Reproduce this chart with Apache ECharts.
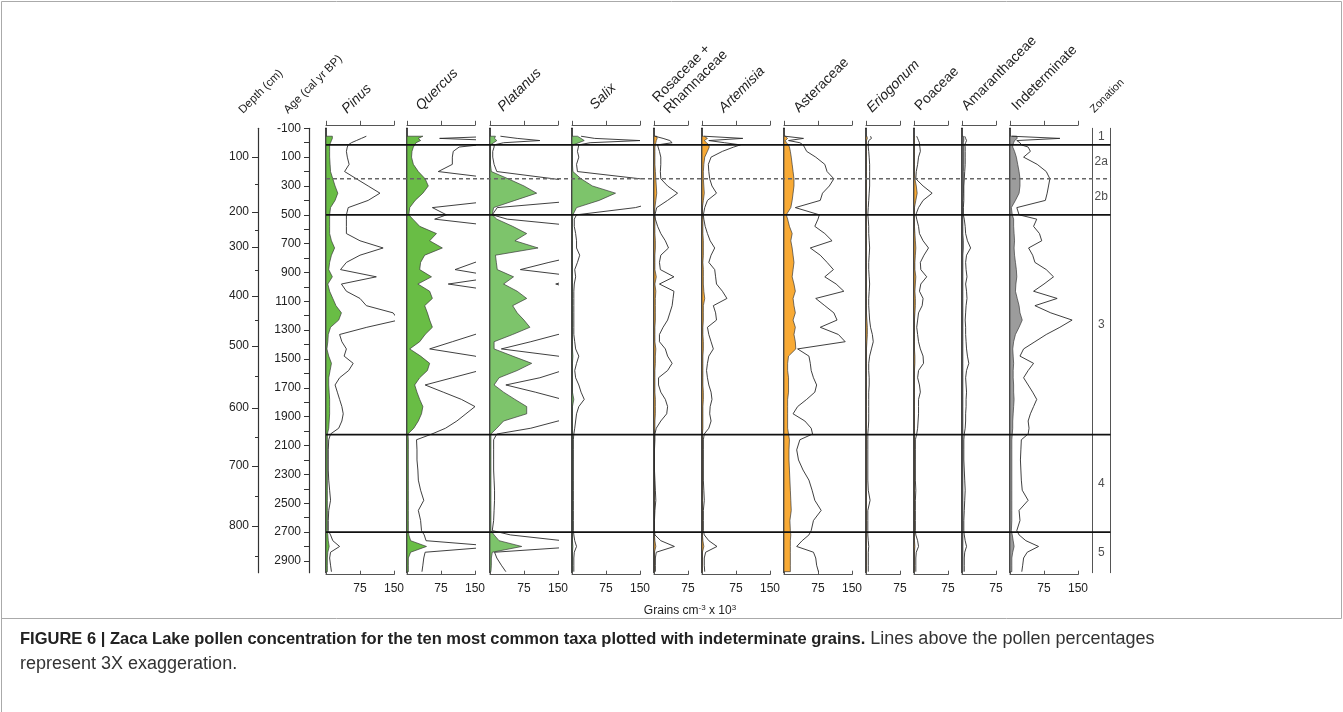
<!DOCTYPE html>
<html><head><meta charset="utf-8">
<script src="https://cdn.jsdelivr.net/npm/echarts@6/dist/echarts.min.js"></script>
<style>html,body{margin:0;padding:0;background:#fff}#c{width:1343px;height:712px}</style>
</head><body><div id="c"></div>
<script>
// ---------- DATA ----------
const ages = [-45,-30,-15,0,15,30,60,100,150,200,250,300,350,400,450,500,530,580,630,680,730,780,830,880,930,980,1030,1080,1130,1180,1230,1280,1330,1380,1430,1480,1530,1580,1630,1680,1730,1780,1830,1880,1930,1980,2020,2060,2130,2200,2270,2340,2410,2480,2550,2620,2690,2720,2760,2800,2840,2880,2930,2975];

const pinusFill = [14,14,12,10,8, 8,8,8,9,10,15, 20,26,20,10,8, 8,8,8,12,19,12,8,6,14,4,8,15,22,34,28,10,5,4,2,6,12,9,6,6,7,8,8,8,7,6,3, 3,3,3,3,3,3,3,3,3,3, 4,5,7,4,3,3,3];
const pinusLine = [89,78,67,56,49, 47,45,47,51,41,67, 93,119,93,49,45, 45,45,45,75,126,75,45,32,111,34,45,75,89,148,160,90,30,35,45,40,60,50,30,20,25,30,35,38,35,28,10, 6,5,5,5,6,8,10,6,5,5, 10,15,30,10,8,10,12];

const quercusFill = [35,25,30,20,17, 14,11,10,14,25,40, 47,35,18,6,4, 13,28,65,50,78,39,30,28,54,24,50,56,39,45,50,56,40,28,6,30,50,45,28,17,22,28,35,32,25,15,2, 3,3,3,3,3,3,3,3,3,3, 4,8,43,8,3,3,3];
const quercusLine = [200,72,200,200,160, 115,102,100,100,69,200, 220,230,200,56,87, 61,200,220,240,240,200,150,106,200,91,200,200,200,200,200,200,150,100,50,150,200,160,100,40,80,120,150,130,110,85,55, 21,22,22,24,25,30,37,25,30,32, 38,42,200,40,37,35,33];

const platanusFill = [12,10,15,8,1, 1,1,1,1,3,40, 75,103,55,8,5, 15,50,81,55,106,12,14,16,52,30,60,81,50,60,75,88,50,9,9,50,92,60,20,9,30,55,81,81,30,15,2, 2,2,2,2,2,2,2,2,2,2, 9,20,70,5,3,3,2];
const platanusLine = [23,60,110,30,9, 9,6,6,9,15,140, 250,300,200,16,5, 38,200,250,280,300,200,130,67,200,145,200,250,200,250,250,250,150,90,25,150,250,160,110,35,100,160,250,250,150,90,15, 8,8,8,8,9,10,10,9,8,5, 45,160,200,10,15,25,35];

const salixFill = [12,20,27,15,2, 1,1,1,1,2,20, 45,96,60,10,2, 1,1,1,1,1,1,1,1,1,1,1,1,1,1,1,1,1,1,1,2,1,1,1,1,1,4,1,1,1,1,1, 1,1,1,1,1,1,1,1,1,1, 1,1,2,1,1,1,1];
const salixLine = [20,50,150,40,15, 14,12,15,10,12,150, 250,290,200,140,10, 5,5,8,10,10,17,12,6,8,5,4,4,4,4,4,4,4,6,8,15,10,6,8,15,20,27,15,10,8,6,4, 3,3,3,3,3,3,3,3,3,3, 4,6,10,5,4,4,4];

const rosaceaeFill = [6,7,5,4,3, 2,2,2,2,3,4, 5,6,4,2,1, 2,2,2,3,3,2,2,2,5,2,4,3,3,3,3,2,2,2,4,3,3,2,2,2,2,3,3,3,2,2,1, 1,1,1,1,1,1,1,1,1,1, 1,2,4,1,1,1,1];
const rosaceaeLine = [2,20,35,40,8, 9,12,15,15,14,15, 30,52,30,6,2, 3,8,15,25,32,15,12,14,44,12,44,42,40,35,30,20,12,12,25,30,40,30,10,10,15,25,30,28,15,5,2, 2,1,1,1,2,3,4,2,1,1, 2,15,45,5,3,3,3];

const artemisiaFill = [5,12,5,10,15, 16,12,6,4,3,3, 4,5,3,1,1, 2,2,2,3,3,3,2,3,3,3,4,6,3,3,3,2,2,3,3,2,2,2,2,2,3,3,2,2,2,2,1, 1,1,1,1,1,1,1,1,1,1, 1,2,4,1,1,1,1];
const artemisiaLine = [5,90,15,50,85, 70,45,20,14,15,17, 22,32,12,6,3, 4,7,12,18,28,20,15,28,30,32,45,55,25,30,32,12,15,20,25,15,12,10,12,15,20,22,18,17,20,15,5, 3,3,3,3,3,4,5,3,3,3, 5,15,33,8,5,5,6];

const asteraceaeFill = [3,8,3,5,10, 12,14,16,18,20,22, 22,20,18,15,5, 8,12,18,15,18,20,22,20,18,22,25,20,22,25,20,25,22,25,26,10,8,8,10,10,10,8,8,8,8,8,10, 12,11,11,12,13,14,15,16,13,14, 15,14,14,14,14,14,14];
const asteraceaeLine = [2,43,10,35,42, 45,50,70,90,95,110, 100,85,80,25,78, 75,68,90,106,58,80,95,109,90,115,132,70,90,110,117,80,120,135,30,55,58,60,65,72,68,50,30,20,46,60,63, 35,28,32,42,55,62,68,82,65,60, 55,40,28,65,70,72,76];

const eriogonumFill = [2,3,1,1,1, 1,1,1,1,1,1, 1,1,1,1,1, 1,1,1,1,1,1,1,1,1,1,1,1,1,1,2,3,3,2,1,1,1,1,1,1,1,1,1,1,1,1,1, 1,1,1,1,1,1,1,1,1,1, 1,1,1,1,1,1,1];
const eriogonumLine = [10,12,6,5,5, 5,6,7,8,8,8, 8,7,6,5,4, 5,6,6,7,8,7,6,6,7,8,7,6,6,7,8,10,14,16,12,8,6,6,7,7,6,6,6,6,6,5,4, 4,4,4,4,4,5,9,4,4,4, 4,5,6,5,5,5,5];

const poaceaeFill = [1,1,1,1,1, 1,1,1,1,1,2, 5,7,4,1,1, 1,1,2,3,4,3,2,2,4,3,2,3,3,2,1,1,1,1,1,2,2,1,1,1,1,1,1,1,1,1,1, 1,1,1,1,1,1,1,1,1,1, 1,1,2,1,1,1,1];
const poaceaeLine = [6,8,10,12,12, 13,14,10,8,5,4, 20,40,20,10,4, 6,10,12,20,32,22,14,15,28,15,12,20,18,10,8,6,8,10,14,20,21,10,8,12,14,10,10,10,9,8,6, 3,3,3,3,3,4,3,3,3,3, 4,8,10,5,4,4,4];

const amaranthFill = [3,4,4,3,3, 4,4,4,4,3,3, 3,3,2,2,2, 2,2,2,3,3,2,2,2,2,2,2,2,2,2,2,2,2,2,2,2,2,2,2,2,2,2,2,2,2,2,2, 2,2,2,2,2,2,2,2,2,2, 2,2,2,2,2,2,2];
const amaranthLine = [6,8,10,8,6, 7,7,7,7,6,5, 4,4,4,3,3, 5,7,8,12,19,10,8,9,11,8,10,11,9,8,7,8,8,9,10,12,15,10,8,9,10,9,9,8,8,7,5, 4,4,4,5,6,7,6,5,4,4, 5,7,10,6,5,5,5];

const indetFill = [15,16,10,8,6, 6,10,14,17,20,22, 22,20,12,3,5, 8,8,9,10,9,10,12,14,15,13,12,16,20,22,27,20,12,8,6,7,8,7,7,8,8,9,8,7,6,6,5, 4,4,4,4,4,4,4,4,4,3, 5,7,9,6,4,4,4];
const indetLine = [4,110,15,22,25, 40,45,30,60,80,88, 85,82,78,15,20, 59,52,65,70,41,50,55,80,96,75,52,104,55,90,137,110,80,55,30,22,52,40,30,40,50,59,52,45,40,42,40, 25,24,23,24,25,27,40,20,22,15, 20,35,63,38,30,28,26];

const ageTicks = [-100,0,100,200,300,400,500,600,700,800,900,1000,1100,1200,1300,1400,1500,1600,1700,1800,1900,2000,2100,2200,2300,2400,2500,2600,2700,2800,2900];
const ageTickLabels = [-100,100,300,500,700,900,1100,1300,1500,1700,1900,2100,2300,2500,2700,2900];
const depthLabels = [100,200,300,400,500,600,700,800];
const depthLabelAges = [99,480,723,1063,1410,1840,2242,2658];
const depthMinorAges = [286,605,883,1230,1618,2041,2450,2866];

const zoneBoundaries = [15,250,500,2025,2700];
const zoneDashed = [false,true,false,false,false];
const zoneNames = ['1','2a','2b','3','4','5'];

// ---------- LAYOUT ----------
const AGE_MIN = -100, AGE_MAX = 2982;
const TOP = 128.3, HEIGHT = 444.4;
const PX_PER_UNIT = 0.4533;
const FONT = 'Liberation Sans, Arial, sans-serif';
const G1 = '#69bd45', G2 = '#7dc46b', OR = '#f8aa35', GR1 = '#6f6f6f', GR2 = '#9c9c9c';

const taxa = [
  {name:'Pinus', it:true, fill:pinusFill, line:pinusLine, max:150, color:G1, left:326, hx:350, hy:117},
  {name:'Quercus', it:true, fill:quercusFill, line:quercusLine, max:150, color:G1, left:407, hx:424, hy:114},
  {name:'Platanus', it:true, fill:platanusFill, line:platanusLine, max:150, color:G2, left:490, hx:506, hy:115},
  {name:'Salix', it:true, fill:salixFill, line:salixLine, max:150, color:G2, left:572, hx:598, hy:113},
  {name:'Rosaceae +\nRhamnaceae', it:false, fill:rosaceaeFill, line:rosaceaeLine, max:75, color:OR, left:654, hx:672, hy:117},
  {name:'Artemisia', it:true, fill:artemisiaFill, line:artemisiaLine, max:150, color:OR, left:702, hx:727, hy:116},
  {name:'Asteraceae', it:false, fill:asteraceaeFill, line:asteraceaeLine, max:150, color:OR, left:784, hx:802, hy:116},
  {name:'Eriogonum', it:true, fill:eriogonumFill, line:eriogonumLine, max:75, color:OR, left:866, hx:875, hy:116},
  {name:'Poaceae', it:false, fill:poaceaeFill, line:poaceaeLine, max:75, color:OR, left:914, hx:923, hy:114},
  {name:'Amaranthaceae', it:false, fill:amaranthFill, line:amaranthLine, max:75, color:GR1, left:962, hx:970, hy:114},
  {name:'Indeterminate', it:false, fill:indetFill, line:indetLine, max:150, color:GR2, left:1010, hx:1020, hy:114}
];

const grid = [], xAxis = [], yAxis = [], series = [], graphic = [];
const yBase = {type:'value', inverse:true, min:AGE_MIN, max:AGE_MAX, splitLine:{show:false}};

taxa.forEach((t, i) => {
  grid.push({left:t.left, top:TOP, width:t.max*PX_PER_UNIT, height:HEIGHT});
  const xb = {type:'value', gridIndex:i, min:0, max:t.max, interval:75, splitLine:{show:false},
    axisLine:{show:true, onZero:false, lineStyle:{color:'#555', width:1}}};
  xAxis.push(Object.assign({}, xb, {position:'bottom', offset:2,
    axisTick:{show:true, inside:true, length:4, lineStyle:{color:'#555'}},
    axisLabel:{show:true, color:'#222', fontSize:12, fontFamily:FONT, margin:8,
      formatter: v => v === 0 ? '' : String(v)}}));
  xAxis.push(Object.assign({}, xb, {position:'top', offset:3,
    axisTick:{show:true, inside:false, length:4.5, lineStyle:{color:'#555'}},
    axisLabel:{show:false}}));
  yAxis.push(Object.assign({}, yBase, {gridIndex:i, axisLine:{show:true, onZero:false, lineStyle:{color:'#1a1a1a', width:1.6}},
    axisTick:{show:false}, axisLabel:{show:false}}));
  const vals = t.fill, col = t.color;
  series.push({type:'custom', xAxisIndex:2*i, yAxisIndex:i, clip:true, z:2, silent:true,
    data: ages.map((a, k) => [vals[k], a]), encode:{x:0, y:1},
    renderItem: (params, api) => {
      if (params.dataIndex !== 0) return null;
      const pts = [api.coord([0, ages[0]])];
      for (let k = 0; k < ages.length; k++) pts.push(api.coord([vals[k], ages[k]]));
      pts.push(api.coord([0, ages[ages.length - 1]]));
      return {type:'polygon', shape:{points:pts}, style:{fill:col, stroke:'#3a3a3a', lineWidth:0.7}};
    }});
  series.push({type:'line', xAxisIndex:2*i, yAxisIndex:i, clip:true, z:3, silent:true, showSymbol:false,
    data: ages.map((a, k) => [t.line[k], a]), lineStyle:{color:'#2a2a2a', width:0.9}});
  graphic.push({type:'text', x:t.hx, y:t.hy, rotation:Math.PI/4,
    style:{text:t.name, fontSize:14, fontStyle:t.it?'italic':'normal', fontFamily:FONT,
      fill:'#222', align:'left', verticalAlign:'bottom', lineHeight:16}});
});

// age axis
let gi = taxa.length;
grid.push({left:309, top:TOP, width:1, height:HEIGHT});
xAxis.push({type:'value', gridIndex:gi, show:false, min:0, max:1});
yAxis.push(Object.assign({}, yBase, {gridIndex:gi, position:'left',
  axisLine:{show:true, lineStyle:{color:'#333', width:1.2}},
  axisTick:{show:true, length:5, customValues:ageTicks, lineStyle:{color:'#333'}},
  axisLabel:{show:true, customValues:ageTickLabels, color:'#222', fontSize:12, fontFamily:FONT, margin:8,
    formatter: v => String(v)}}));

// depth axis (major + minor)
gi++;
grid.push({left:258, top:TOP, width:1, height:HEIGHT});
xAxis.push({type:'value', gridIndex:gi, show:false, min:0, max:1});
yAxis.push(Object.assign({}, yBase, {gridIndex:gi, position:'left',
  axisLine:{show:true, lineStyle:{color:'#333', width:1.2}},
  axisTick:{show:true, length:6, customValues:depthLabelAges, lineStyle:{color:'#333'}},
  axisLabel:{show:true, customValues:depthLabelAges, color:'#222', fontSize:12, fontFamily:FONT, margin:9,
    formatter: v => { const k = depthLabelAges.indexOf(v); return k >= 0 ? String(depthLabels[k]) : ''; }}}));
yAxis.push(Object.assign({}, yBase, {gridIndex:gi, position:'left',
  axisLine:{show:false},
  axisTick:{show:true, length:3, customValues:depthMinorAges, lineStyle:{color:'#333'}},
  axisLabel:{show:false}}));

// zonation column
gi++;
grid.push({left:1092, top:TOP, width:18.5, height:HEIGHT});
xAxis.push({type:'value', gridIndex:gi, show:false, min:0, max:1});
const zxi = xAxis.length - 1;
yAxis.push(Object.assign({}, yBase, {gridIndex:gi, position:'left', axisLine:{show:true, lineStyle:{color:'#555', width:1}}, axisTick:{show:false}, axisLabel:{show:false}}));
const zyi = yAxis.length - 1;
yAxis.push(Object.assign({}, yBase, {gridIndex:gi, position:'right', axisLine:{show:true, lineStyle:{color:'#555', width:1}}, axisTick:{show:false}, axisLabel:{show:false}}));
const zb = [AGE_MIN].concat(zoneBoundaries, [AGE_MAX]);
series.push({type:'scatter', xAxisIndex:zxi, yAxisIndex:zyi, symbolSize:0, silent:true,
  data: zoneNames.map((n, k) => ({value:[0.5, (zb[k] + zb[k+1]) / 2], name:n})),
  label:{show:true, position:'inside', formatter:p => p.name, color:'#222', fontSize:12, fontFamily:FONT}});

// zone boundary overlay
gi++;
grid.push({left:326, top:TOP, width:1110.5 - 326, height:HEIGHT});
xAxis.push({type:'value', gridIndex:gi, show:false, min:0, max:1});
const oxi = xAxis.length - 1;
yAxis.push(Object.assign({}, yBase, {gridIndex:gi, show:false}));
const oyi = yAxis.length - 1;
zoneBoundaries.forEach((b, k) => {
  series.push({type:'line', xAxisIndex:oxi, yAxisIndex:oyi, z:10, silent:true, showSymbol:false,
    data:[[0, b], [1, b]],
    lineStyle: zoneDashed[k] ? {color:'#666', width:1.3, type:[4,3]} : {color:'#111', width:1.8}});
});

// headers & texts
const hdr = (txt, x, y, fs) => ({type:'text', x, y, rotation:Math.PI/4,
  style:{text:txt, fontSize:fs, fontFamily:FONT, fill:'#222', align:'left', verticalAlign:'bottom'}});
graphic.push(hdr('Depth (cm)', 245, 116, 11.5));
graphic.push(hdr('Age (cal yr BP)', 290, 116, 11.5));
graphic.push(hdr('Zonation', 1096, 115, 11));
graphic.push({type:'text', x:690, y:611, style:{text:'Grains cm{s|-3} x 10{s|3}', rich:{s:{fontSize:8, verticalAlign:'top', padding:[0,0,6,0]}},
  fontSize:12, fontFamily:FONT, fill:'#222', align:'center', verticalAlign:'middle'}});
graphic.push({type:'rect', shape:{x:1.5, y:1.5, width:1340, height:617}, style:{fill:null, stroke:'#aaa', lineWidth:1}});
graphic.push({type:'line', shape:{x1:1.5, y1:618, x2:1.5, y2:712}, style:{stroke:'#aaa', lineWidth:1}});
graphic.push({type:'text', x:20, y:652, style:{
  text:'{b|FIGURE 6 | Zaca Lake pollen concentration for the ten most common taxa plotted with indeterminate grains.}{n| Lines above the pollen percentages}\n{n|represent 3X exaggeration.}',
  rich:{b:{fontWeight:'bold', fontSize:16.5, fontFamily:FONT, fill:'#222', lineHeight:25},
        n:{fontSize:18, fontFamily:FONT, fill:'#333', lineHeight:25}},
  fontSize:16, lineHeight:25, fontFamily:FONT, fill:'#222', verticalAlign:'middle'}});

const chart = echarts.init(document.getElementById('c'), null, {renderer:'canvas'});
chart.setOption({animation:false, backgroundColor:'#fff', grid, xAxis, yAxis, series, graphic});
</script></body></html>
